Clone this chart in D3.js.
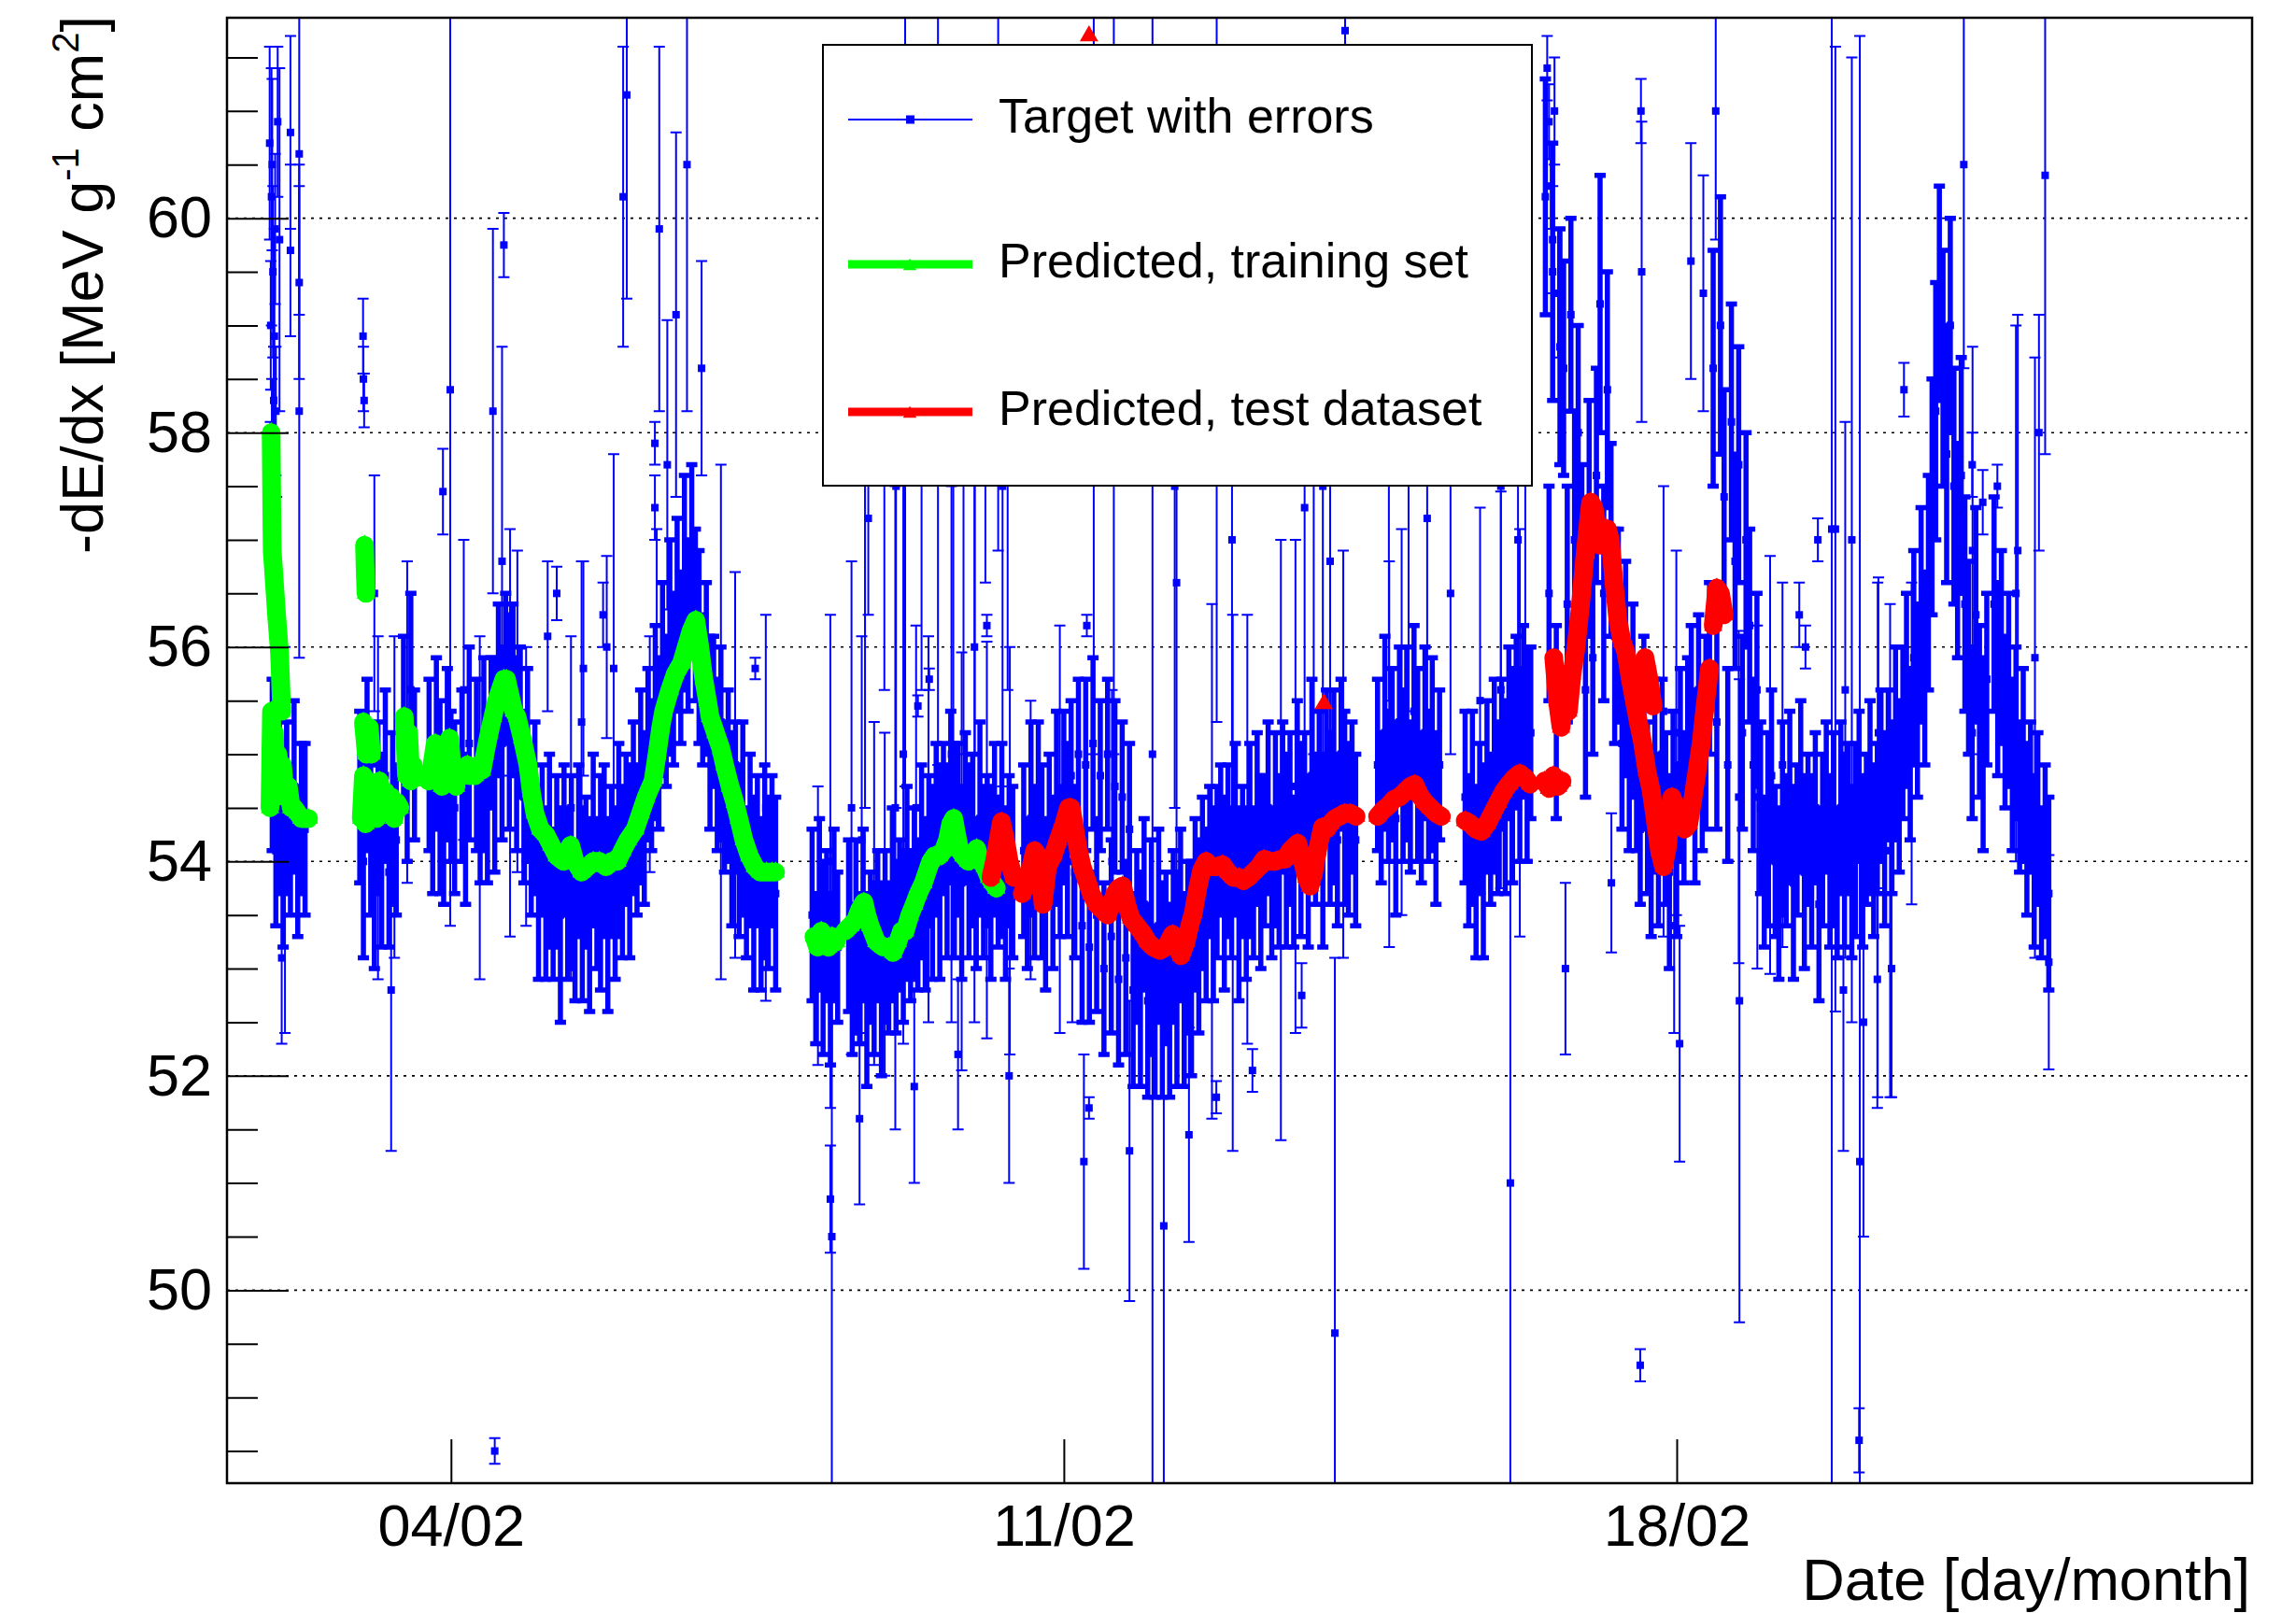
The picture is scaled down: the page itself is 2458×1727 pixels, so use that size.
<!DOCTYPE html>
<html>
<head>
<meta charset="utf-8">
<script src="https://cdn.jsdelivr.net/npm/d3@7"></script>
<style>
  html, body { margin: 0; padding: 0; background: #fff; }
  text { font-family: "Liberation Sans", Arial, Helvetica, sans-serif; fill: #000; }
</style>
</head>
<body>
<svg id="chart"></svg>
<script>
//************************************ Data ************************************//
// all times are hours counted from 01/02 00:00 UTC
var t0 = Date.UTC(2018, 1, 1);
var hourToDate = function(h) { return new Date(t0 + h * 3600e3); };

var xTickHours = [72, 240, 408];                 // 04/02, 11/02, 18/02
var yTickValues = [50, 52, 54, 56, 58, 60];
var yMinorValues = [48.5, 49, 49.5, 50.5, 51, 51.5, 52.5, 53, 53.5, 54.5, 55, 55.5,
                    56.5, 57, 57.5, 58.5, 59, 59.5, 60.5, 61, 61.5];
var legendLabels = ['Target with errors', 'Predicted, training set', 'Predicted, test dataset'];

// target: continuous runs of hourly values, first hour of each run
var targetStart = [23, 47, 59, 66, 75, 79, 171, 181, 229, 326, 350, 372, 495];
var targetValues = [
  [54.9, 54.1, 54.6, 53.9, 54.5, 54.2, 54.7, 54.0, 54.4, 54.3],
  [54.6, 54.0, 54.9, 54.2, 53.8, 54.5, 54.1, 54.8, 53.9, 54.4, 54.2],
  [55.3, 54.7, 55.6, 54.9],
  [54.9, 54.4, 55.1, 54.6, 54.3, 55.0, 54.7, 54.5],
  [54.8, 54.3, 55.1],
  [54.9, 54.5, 55.0, 54.6, 55.2, 54.9, 55.6, 55.1, 55.8, 55.3,
   55.6, 55.0, 55.3, 54.6, 54.9, 54.2, 54.5, 53.8, 54.2, 53.7,
   54.1, 53.6, 54.0, 53.5, 54.2, 53.7, 53.9, 53.4, 54.1, 53.6,
   53.9, 53.5, 54.2, 53.7, 53.8, 54.1, 53.5, 54.0, 53.7, 54.2,
   53.9, 54.3, 54.0, 54.5, 54.2, 54.7, 54.4, 55.0, 54.8, 55.3,
   55.1, 55.7, 55.4, 56.0, 55.7, 56.3, 55.9, 56.6, 56.2, 56.8,
   56.3, 56.0, 55.6, 55.8, 55.2, 55.4, 54.9, 55.1, 54.6, 54.8,
   54.3, 54.6, 54.1, 54.4, 53.8, 54.2, 53.7, 54.1, 53.6, 54.0,
   53.8, 54.1, 53.7],
  [53.5, 53.0, 53.6, 53.1, 53.4, 52.9, 53.5, 53.2],
  [53.4, 52.9, 53.3, 53.0, 53.5, 52.8, 53.2, 53.0, 53.4, 52.9,
   53.3, 53.1, 53.6, 53.2, 53.5, 53.3, 53.8, 53.4, 53.7, 53.5,
   54.0, 53.6, 54.1, 53.8, 54.3, 53.9, 54.4, 54.0, 54.6, 54.1,
   54.3, 53.8, 54.5, 54.0, 54.2, 53.7, 54.4, 53.9, 54.1, 53.8,
   54.3, 53.9, 54.2, 53.7, 54.1, 53.9],
  [54.1, 53.7, 54.4, 53.9, 54.6, 54.0, 53.6, 54.3, 53.8, 54.5,
   54.0, 54.6, 54.2, 54.8, 53.9, 55.0, 53.4, 54.9, 53.2, 55.1,
   53.5, 54.8, 53.0, 55.0, 53.3, 54.7, 52.9, 54.6, 53.1, 54.3,
   52.8, 53.3, 52.9, 53.6, 52.7, 53.2, 52.6, 53.4, 52.8, 53.1,
   52.7, 53.3, 52.9, 53.5, 52.8, 53.2, 53.0, 53.6, 53.3, 53.8,
   53.5, 54.0, 53.6, 53.9, 54.2, 53.7, 54.1, 53.8, 54.3, 53.6,
   54.0, 53.7, 54.2, 53.8, 54.4, 53.9, 54.1, 54.5, 53.8, 54.3,
   54.0, 54.6, 54.1, 54.4, 53.9, 54.7, 54.2, 54.5, 54.0, 54.8,
   54.3, 54.6, 54.1, 54.9, 54.4, 54.7, 54.2, 55.0, 54.5, 54.3,
   54.6, 54.2],
  [54.9, 54.5, 55.2, 54.7, 55.0, 54.4, 55.3, 54.8, 55.1, 54.6,
   55.4, 54.9, 54.5, 55.2, 54.7, 55.0, 54.4, 54.9],
  [54.6, 54.1, 54.5, 53.9, 54.4, 54.0, 54.7, 54.3, 54.8, 54.5,
   55.0, 54.6, 55.2, 54.8, 55.3, 54.9, 55.4, 55.0, 55.2],
  [60.2, 56.5, 59.5, 55.3, 58.8, 58.6, 56.4, 59.1, 57.0, 58.0,
   56.8, 55.6, 57.2, 55.9, 57.6, 59.2, 56.5, 58.4, 57.0, 56.1,
   56.2, 55.1, 55.8, 54.9, 55.5,
   54.9, 54.3, 55.2, 54.5, 54.0, 54.8, 54.2, 55.0, 54.4, 53.9, 54.7, 54.1, 54.9, 54.5, 55.1,
   55.4, 54.7, 55.6, 54.9, 55.2, 55.8,
   58.6, 55.3, 59.0, 57.4, 54.9, 58.1, 56.8, 57.7, 55.2, 57.0, 56.2, 54.9, 55.6,
   54.5, 53.9, 54.3, 54.8, 54.0, 53.7, 54.4, 54.1, 54.6, 53.8,
   54.2, 54.7, 53.9, 54.3, 54.0, 54.5, 53.6, 54.2, 54.6, 54.0,
   54.3, 53.8, 54.5, 54.1, 54.4, 53.9, 54.2, 54.7, 54.0, 54.3,
   54.6, 54.1, 54.4, 54.8, 54.3, 54.9, 54.5, 55.1, 54.7,
   55.2, 55.6, 55.0, 55.9, 55.5, 56.3, 55.8,
   56.6, 57.4, 58.2, 59.3, 58.6, 57.8, 59.0, 57.5, 56.9, 57.6, 56.4,
   55.9, 55.2, 56.3, 55.4, 55.0, 55.7],
  [56.4, 55.7, 56.0, 55.3, 55.6, 54.9, 55.2, 54.6, 54.9, 54.3,
   54.6, 54.0, 54.4, 53.8, 54.1, 53.7]
];
var targetErrors = [
  [0.8, 0.7, 0.9, 0.7, 0.8, 0.7, 0.8, 0.7, 0.7, 0.8],
  [0.8, 0.9, 0.8, 0.7, 0.8, 0.8, 0.9, 0.8, 0.7, 0.8, 0.7],
  [0.8, 0.7, 0.9, 0.7],
  [0.8, 0.7, 0.8, 0.9, 0.7, 0.8, 0.7, 0.8],
  [0.8, 0.7, 0.9],
  [0.8, 0.7, 0.9, 0.8, 0.7, 1.0, 0.8, 0.9, 0.7, 1.0,
   0.8, 0.9, 0.7, 0.8, 0.9, 0.7, 0.8, 0.9, 0.7, 0.8,
   0.9, 0.7, 0.8, 1.0, 0.7, 0.8, 0.9, 0.7, 0.8, 0.9,
   0.7, 0.9, 0.8, 0.7, 1.0, 0.8, 0.9, 0.7, 0.8, 0.9,
   0.8, 0.7, 0.9, 0.8, 0.7, 0.9, 0.8, 0.8, 0.7, 0.9,
   0.8, 0.9, 0.7, 1.0, 0.8, 0.9, 0.8, 1.0, 0.8, 0.9,
   0.8, 0.9, 0.7, 0.8, 0.9, 0.7, 0.8, 0.9, 0.7, 0.8,
   0.9, 0.7, 0.8, 0.9, 0.7, 0.8, 0.9, 0.7, 0.8, 0.9,
   0.8, 0.7, 0.9],
  [0.8, 0.7, 0.8, 0.9, 0.7, 0.8, 0.8, 0.7],
  [0.8, 0.7, 0.9, 0.7, 0.8, 0.9, 0.7, 0.8, 0.7, 0.9,
   0.8, 0.7, 0.9, 0.8, 0.7, 0.8, 0.9, 0.7, 0.8, 0.7,
   0.9, 0.8, 0.7, 0.9, 0.8, 1.0, 0.7, 0.9, 0.8, 1.0,
   0.8, 0.9, 0.7, 0.9, 0.8, 0.7, 0.9, 0.8, 0.7, 0.9,
   0.8, 0.7, 0.9, 0.8, 0.7, 0.8],
  [0.8, 0.7, 0.9, 0.8, 0.7, 0.9, 0.8, 0.7, 0.8, 0.9,
   0.7, 0.8, 0.9, 0.7, 0.8, 0.7, 0.9, 0.8, 0.7, 0.8,
   0.9, 0.7, 0.8, 0.7, 0.9, 0.8, 0.8, 0.7, 0.9, 0.8,
   0.9, 0.8, 1.0, 0.8, 0.9, 1.0, 0.8, 0.9, 1.0, 0.8,
   0.9, 0.8, 1.0, 0.8, 0.9, 0.8, 1.0, 0.8, 0.9, 0.8,
   0.8, 0.7, 0.9, 0.8, 0.7, 0.9, 0.8, 0.7, 0.8, 0.9,
   0.7, 0.8, 0.9, 0.7, 0.8, 0.9, 0.7, 0.8, 0.7, 0.9,
   0.8, 0.7, 0.9, 0.8, 0.7, 0.8, 0.9, 0.7, 0.8, 0.9,
   0.7, 0.8, 0.9, 0.7, 0.8, 0.9, 0.8, 0.7, 0.9, 0.8,
   0.7, 0.8],
  [0.8, 0.7, 0.9, 0.7, 0.8, 0.9, 0.7, 0.8, 0.9, 0.7,
   0.8, 0.9, 0.7, 0.8, 0.7, 0.9, 0.8, 0.7],
  [0.8, 0.7, 0.9, 0.8, 0.7, 0.9, 0.8, 0.7, 0.9, 0.8,
   0.7, 0.9, 0.8, 1.0, 0.8, 0.9, 0.8, 1.0, 0.8],
  [1.1, 1.0, 1.2, 0.9, 1.1, 1.0, 1.1, 0.9, 1.2, 1.0,
   0.9, 1.0, 1.1, 0.9, 1.0, 1.2, 1.0, 1.1, 0.9, 1.0,
   0.9, 0.8, 1.0, 0.8, 0.9,
   0.8, 0.7, 0.9, 0.8, 0.7, 0.9, 0.8, 0.7, 0.8, 0.9, 0.7, 0.8, 0.9, 0.7, 0.8,
   0.8, 0.9, 0.7, 0.8, 0.9, 0.8,
   1.1, 1.0, 1.2, 1.0, 0.9, 1.1, 1.0, 1.1, 0.9, 1.0, 0.9, 0.8, 0.9,
   0.8, 0.7, 0.9, 0.8, 0.7, 0.8, 0.9, 0.7, 0.8, 0.9,
   0.7, 0.8, 0.9, 0.7, 0.8, 0.7, 0.9, 0.8, 0.7, 0.8,
   0.9, 0.7, 0.8, 0.9, 0.7, 0.8, 0.9, 0.7, 0.8, 0.7,
   0.9, 0.8, 0.7, 0.8, 0.9, 0.7, 0.8, 0.9, 0.8,
   0.8, 0.9, 0.8, 1.0, 0.9, 1.0, 0.9,
   1.0, 1.1, 1.2, 1.0, 1.1, 1.2, 1.0, 1.1, 1.0, 1.1, 1.0,
   0.9, 0.8, 1.0, 0.8, 0.9, 0.8],
  [1.0, 0.9, 0.9, 0.8, 0.9, 0.8, 0.8, 0.7, 0.9, 0.8,
   0.7, 0.8, 0.8, 0.7, 0.8, 0.9]
];

// isolated target points and spikes: [hour, value, error]
var targetOutliers = [
  [22.3, 60.7, 0.9], [22.5, 57.6, 0.5], [22.6, 59.0, 0.6], [22.8, 60.2, 1.2], [22.9, 57.9, 0.6],
  [23.0, 60.5, 0.8], [23.2, 59.5, 0.8], [23.4, 58.3, 0.5], [23.5, 57.3, 0.5], [23.6, 58.9, 1.0],
  [23.8, 59.9, 0.7], [24.0, 58.2, 0.6], [24.2, 56.8, 0.6], [24.5, 60.9, 0.7], [25.0, 59.8, 1.6],
  [25.6, 53.1, 0.8], [26.5, 54.2, 1.8], [28.0, 60.8, 0.9], [28.0, 59.7, 0.8], [30.4, 60.6, 1.5],
  [30.4, 59.4, 0.9], [30.4, 58.2, 2.3],
  [47.9, 58.9, 0.35], [48.0, 58.5, 0.3], [48.2, 58.3, 0.25], [51.0, 56.5, 1.1], [52.0, 54.5, 1.6],
  [55.6, 52.8, 1.5], [56.5, 54.6, 1.5], [60.0, 55.3, 1.5],
  [69.8, 57.45, 0.4], [71.8, 58.4, 5.0], [75.5, 55.6, 1.4], [79.9, 54.5, 1.6], [83.5, 58.2, 1.7],
  [84.0, 48.5, 0.12], [86.0, 56.8, 2.0], [86.5, 59.75, 0.3], [88.2, 55.2, 1.9], [90.2, 55.4, 1.5],
  [92.6, 54.7, 1.3], [98.5, 56.1, 0.7], [101.0, 56.5, 0.25], [104.9, 54.5, 1.6], [107.8, 55.3, 1.5],
  [108.3, 55.8, 1.0], [113.7, 56.3, 0.3], [114.7, 56.0, 0.85], [116.6, 55.8, 2.0], [119.2, 60.2, 1.4],
  [120.2, 61.15, 1.9], [126.5, 55.0, 1.1], [127.9, 57.9, 0.2], [127.9, 57.3, 0.3], [128.4, 55.7, 1.4],
  [129.1, 59.9, 1.7], [131.3, 57.7, 1.35], [133.7, 59.1, 1.7], [136.7, 60.5, 2.3], [140.7, 58.6, 1.0],
  [146.0, 55.3, 2.4], [149.9, 54.9, 1.8], [155.4, 55.8, 0.1], [158.3, 54.5, 1.8],
  [172.6, 53.4, 1.3], [176.0, 54.0, 2.3], [176.0, 50.85, 0.5], [176.4, 50.5, 2.4], [181.8, 54.5, 2.3],
  [184.0, 51.6, 0.8], [184.6, 54.2, 1.9], [185.5, 58.0, 3.5], [186.4, 57.2, 0.9], [188.0, 53.7, 1.6],
  [190.8, 58.6, 3.0], [190.9, 53.6, 1.6], [193.8, 54.5, 3.0], [194.0, 57.5, 3.0], [196.0, 55.0, 2.7],
  [196.5, 58.5, 3.8], [199.0, 51.9, 0.9], [199.5, 54.5, 1.7], [200.0, 55.45, 0.1], [201.0, 57.8, 2.2],
  [202.9, 54.3, 1.8], [203.1, 55.7, 0.1], [205.5, 58.4, 3.5], [209.2, 55.0, 2.5], [209.7, 57.8, 3.0],
  [211.0, 52.2, 0.7], [212.0, 54.0, 1.95], [212.5, 58.0, 3.0], [215.5, 56.0, 3.5], [215.6, 58.2, 3.2],
  [218.5, 58.8, 2.2], [218.9, 56.2, 0.1], [218.9, 54.2, 1.85], [222.0, 59.4, 2.5], [223.2, 57.5, 2.8],
  [224.6, 57.6, 2.0], [225.0, 52.0, 1.0], [225.2, 54.1, 1.9],
  [230.9, 54.2, 1.3], [238.9, 54.3, 1.9], [242.3, 54.0, 1.5], [245.5, 51.2, 1.0], [246.3, 56.2, 0.1],
  [246.9, 51.7, 0.1], [248.2, 59.5, 4.5], [253.2, 54.0, 1.6], [253.7, 60.0, 5.0], [258.0, 51.3, 1.4],
  [264.3, 55.0, 7.0], [267.4, 50.6, 3.0], [270.4, 57.5, 3.0], [270.9, 56.6, 3.0], [274.3, 51.45, 1.0],
  [280.6, 54.0, 2.4], [281.8, 51.8, 0.15], [281.9, 58.8, 3.5], [286.1, 57.0, 2.5], [286.3, 53.8, 2.5],
  [290.3, 54.3, 2.0], [291.7, 52.05, 0.2], [299.5, 54.2, 2.8], [303.5, 54.7, 2.3], [305.2, 52.75, 0.3],
  [306.0, 57.3, 2.8], [308.5, 58.0, 3.0], [311.0, 57.5, 2.6], [313.0, 56.8, 2.4], [314.3, 49.6, 3.5],
  [316.6, 55.0, 1.9], [317.1, 61.75, 0.15],
  [329.1, 58.5, 3.0], [329.2, 55.0, 1.8], [332.6, 55.3, 1.8], [334.5, 58.0, 2.6], [339.6, 57.2, 2.0],
  [346.0, 56.5, 1.5], [354.1, 55.5, 1.8], [359.8, 57.5, 2.5], [359.8, 55.6, 1.85], [362.4, 51.0, 3.6],
  [364.5, 57.0, 2.2], [365.0, 55.2, 1.9], [366.5, 58.5, 3.0],
  [372.5, 61.4, 0.3], [373.0, 60.9, 0.35], [373.5, 60.3, 0.4], [374.0, 59.8, 0.5], [374.5, 61.0, 0.5],
  [375.5, 59.3, 0.6], [377.5, 53.0, 0.8], [390.1, 53.8, 0.65], [398.0, 49.3, 0.15], [398.2, 61.0, 0.3],
  [398.4, 59.5, 1.4], [404.4, 55.4, 2.1], [407.3, 53.4, 1.0], [407.9, 55.2, 1.7], [408.8, 52.3, 1.1],
  [411.9, 59.6, 1.1], [415.3, 59.3, 1.1], [418.7, 61.0, 1.2], [425.0, 54.6, 1.55], [425.2, 52.7, 3.0],
  [430.1, 54.6, 1.6], [433.6, 54.9, 1.95], [437.0, 54.9, 1.7], [441.6, 56.3, 0.3], [443.3, 56.0, 0.2],
  [446.7, 57.0, 0.2], [450.5, 57.1, 9.0], [451.5, 57.1, 4.5], [453.7, 52.8, 1.5], [454.2, 55.6, 2.5],
  [456.0, 57.0, 4.5], [458.0, 48.6, 0.3], [458.2, 51.2, 10.5], [459.2, 52.5, 2.0], [463.0, 52.9, 1.2],
  [463.1, 54.2, 2.4], [463.3, 55.2, 1.45], [466.5, 54.1, 2.3], [466.9, 53.0, 1.2], [470.3, 58.4, 0.25],
  [472.4, 55.1, 1.5], [486.7, 60.5, 1.9], [489.0, 57.7, 0.3], [489.1, 56.9, 1.9], [491.9, 57.35, 0.3],
  [495.9, 57.5, 0.2], [501.0, 56.5, 2.5], [501.5, 56.9, 2.2], [506.2, 55.9, 2.8], [507.3, 58.0, 1.1],
  [509.0, 60.4, 2.6], [510.0, 53.06, 1.0]
];

// network output on the training set: [hour, value], one array per stretch
var trainSegments = [
  [[22.7, 58.0], [22.8, 57.6], [22.9, 57.2], [23.0, 56.9], [24.2, 56.3], [25.0, 55.95], [25.6, 55.4]],
  [[22.4, 54.5], [22.8, 55.4], [23.2, 54.6], [23.6, 55.2], [24.0, 54.6], [24.6, 55.0], [25.2, 54.7],
   [25.8, 54.9], [26.6, 54.6], [27.4, 54.7], [28.2, 54.5], [29.0, 54.5], [30.0, 54.45], [31.0, 54.4],
   [32.0, 54.4], [33.0, 54.4]],
  [[48.3, 56.95], [48.5, 56.7], [48.7, 56.5]],
  [[48.0, 55.3], [48.8, 55.0], [49.6, 55.25], [50.2, 55.0]],
  [[47.4, 54.4], [48.0, 54.8], [48.6, 54.35], [49.2, 54.75], [50.0, 54.4], [50.8, 54.7], [51.6, 54.4],
   [52.4, 54.75], [53.2, 54.5], [54.0, 54.65], [54.8, 54.45], [55.6, 54.6], [56.4, 54.4], [57.2, 54.55],
   [58.0, 54.5]],
  [[59.2, 55.35], [59.8, 54.8], [60.4, 55.2], [61.0, 54.75], [61.6, 54.9]],
  [[65.8, 54.75], [66.8, 54.9], [67.7, 55.1], [68.6, 54.8], [69.5, 54.7], [70.5, 54.85], [71.6, 55.15],
   [72.5, 54.8], [73.4, 54.7]],
  [[74.6, 54.85], [75.6, 54.8], [76.5, 54.9], [77.3, 54.8]],
  [[78.6, 54.8], [79.6, 54.9], [80.5, 54.85], [81.3, 55.0], [82.5, 55.2], [83.5, 55.35], [84.5, 55.5],
   [85.5, 55.6], [86.5, 55.7], [87.2, 55.7], [88.2, 55.55], [89.2, 55.4], [90.1, 55.35], [91.5, 55.15],
   [93.1, 54.9], [94.0, 54.65], [95.0, 54.45], [96.5, 54.3], [98.0, 54.25], [99.5, 54.15], [101.0, 54.05],
   [102.9, 54.0], [104.0, 54.1], [104.8, 54.15], [106.0, 54.0], [107.8, 53.9], [109.5, 53.95], [111.0, 54.0],
   [112.7, 54.0], [114.5, 53.95], [116.0, 54.0], [117.6, 54.0], [119.0, 54.1], [120.5, 54.2], [122.5, 54.3],
   [124.0, 54.45], [125.5, 54.6], [127.4, 54.75], [128.5, 55.0], [129.5, 55.25], [130.3, 55.4], [132.0, 55.6],
   [133.5, 55.75], [135.2, 55.85], [136.5, 56.0], [137.8, 56.15], [139.1, 56.25], [140.2, 56.0], [141.3, 55.7],
   [142.3, 55.5], [143.0, 55.35], [144.5, 55.2], [146.0, 55.05], [147.0, 54.9], [148.5, 54.7], [149.8, 54.55],
   [150.9, 54.4], [152.3, 54.2], [153.8, 54.05], [155.3, 53.95], [156.8, 53.9], [158.5, 53.9], [160.0, 53.9],
   [161.0, 53.9]],
  [[171.5, 53.3], [172.5, 53.2], [173.5, 53.35], [174.5, 53.25], [175.5, 53.2], [176.5, 53.3], [177.6, 53.25]],
  [[180.0, 53.35], [181.5, 53.4], [182.9, 53.45], [184.0, 53.55], [185.2, 53.62], [186.0, 53.5], [186.9, 53.4],
   [188.6, 53.25], [190.5, 53.2], [192.0, 53.2], [193.2, 53.15], [194.5, 53.25], [195.5, 53.35], [196.5, 53.35],
   [197.8, 53.5], [199.0, 53.6], [200.1, 53.7], [201.5, 53.8], [203.5, 54.0], [204.5, 54.05], [205.8, 54.05],
   [207.0, 54.1], [208.1, 54.2], [209.0, 54.35], [209.8, 54.4], [210.6, 54.25], [211.5, 54.1], [212.5, 54.05],
   [213.8, 54.0], [215.0, 54.05], [216.1, 54.12], [217.2, 54.0], [218.3, 53.95], [219.5, 53.85], [220.5, 53.8],
   [221.5, 53.75]]
];

// network output on the test set: [hour, value], one array per stretch
var testSegments = [
  [[220.0, 53.85], [221.0, 54.0], [222.0, 54.2], [222.9, 54.37], [224.0, 54.2], [225.0, 54.0], [226.3, 53.85]],
  [[228.6, 53.7], [229.8, 53.8], [231.0, 53.95], [232.0, 54.1], [233.0, 54.05], [234.3, 53.6], [235.5, 53.95],
   [237.0, 54.05], [238.5, 54.2], [240.0, 54.35], [241.3, 54.5], [242.0, 54.5], [243.0, 54.3], [244.0, 54.1],
   [245.0, 53.95], [246.0, 53.85], [247.5, 53.7], [249.0, 53.6], [250.5, 53.55], [252.0, 53.5], [253.0, 53.6],
   [254.0, 53.7], [255.0, 53.75], [256.1, 53.77], [257.2, 53.6], [258.4, 53.47], [260.0, 53.4], [261.8, 53.32],
   [263.0, 53.25], [264.5, 53.2], [266.4, 53.17], [268.0, 53.2], [269.8, 53.32], [271.0, 53.2], [272.1, 53.12],
   [273.5, 53.25], [274.5, 53.4], [275.5, 53.52], [276.7, 53.75], [277.8, 53.92], [279.0, 54.0], [280.5, 53.95],
   [282.0, 53.95], [283.5, 53.97], [285.0, 53.9], [286.5, 53.85], [288.0, 53.85], [289.2, 53.82], [290.5, 53.85],
   [292.0, 53.9], [293.5, 53.95], [294.9, 54.02], [296.5, 54.0], [298.0, 54.0], [299.5, 54.02], [300.6, 54.02],
   [302.0, 54.1], [304.1, 54.17], [305.5, 54.0], [306.5, 53.85], [307.5, 53.77], [308.5, 53.9], [309.5, 54.1],
   [310.9, 54.32], [312.0, 54.3], [313.0, 54.35], [314.3, 54.4], [315.5, 54.42], [317.0, 54.45], [318.5, 54.45],
   [320.1, 54.42]],
  [[326.0, 54.42], [327.5, 54.48], [329.0, 54.52], [330.5, 54.58], [332.0, 54.6], [333.5, 54.65], [335.0, 54.7],
   [336.2, 54.72], [337.5, 54.62], [339.0, 54.55], [340.5, 54.5], [342.0, 54.45], [343.5, 54.42]],
  [[350.0, 54.38], [351.5, 54.35], [353.0, 54.3], [354.5, 54.28], [356.0, 54.35], [357.5, 54.45], [359.0, 54.55],
   [360.5, 54.65], [362.0, 54.72], [363.5, 54.78], [365.0, 54.82], [366.5, 54.78], [367.8, 54.72]],
  [[371.8, 54.75], [373.0, 54.68], [374.2, 54.8], [375.5, 54.7], [376.6, 54.75]],
  [[374.3, 55.9], [375.3, 55.5], [376.3, 55.25], [377.3, 55.6], [378.3, 55.4], [379.3, 55.75], [380.4, 56.0],
   [381.5, 56.35], [382.7, 56.8], [383.6, 57.1], [384.4, 57.35], [385.3, 57.3], [386.1, 57.15]],
  [[387.0, 56.95], [388.0, 57.0], [389.0, 57.1], [389.8, 57.0], [390.8, 56.6], [391.9, 56.25], [393.0, 56.05],
   [394.1, 55.95], [395.3, 55.7], [396.4, 55.5], [397.5, 55.3], [398.7, 55.1], [399.8, 54.85], [401.0, 54.66],
   [402.1, 54.4], [403.3, 54.1], [404.4, 53.95], [405.5, 54.15], [406.7, 54.6], [407.8, 54.5], [409.0, 54.35],
   [410.1, 54.3], [411.3, 54.35], [412.5, 54.6], [413.6, 54.85], [414.7, 55.1], [415.8, 55.45], [417.0, 55.8]],
  [[418.0, 56.2], [419.0, 56.55], [420.0, 56.5], [421.0, 56.3]],
  [[397.0, 55.45], [398.2, 55.8], [399.3, 55.9], [400.4, 55.7], [401.5, 55.45]],
  [[246.9, 61.7]],
  [[311.3, 55.47]]
];

//************************************ Layout ************************************//
var width = 2458, height = 1727;
var frame = {left: 243, right: 2411, top: 19, bottom: 1588};
var blue = '#0000ff', green = '#00ff00', red = '#ff0000';

var x = d3.scaleUtc()
    .domain([hourToDate(10.6), hourToDate(565.73)])
    .range([frame.left, frame.right]);
var y = d3.scaleLinear()
    .domain([48.2, 61.87])
    .range([frame.bottom, frame.top]);
var px = function(h) { return x(hourToDate(h)); };

var svg = d3.select('#chart').attr('width', width).attr('height', height);
svg.append('rect').attr('width', width).attr('height', height).attr('fill', '#fff');

svg.append('clipPath').attr('id', 'plot-clip')
  .append('rect')
    .attr('x', frame.left).attr('y', frame.top)
    .attr('width', frame.right - frame.left).attr('height', frame.bottom - frame.top);

// horizontal dotted grid at the labelled values
svg.append('g').selectAll('line').data(yTickValues).join('line')
    .attr('x1', frame.left).attr('x2', frame.right)
    .attr('y1', function(d) { return y(d); }).attr('y2', function(d) { return y(d); })
    .attr('stroke', '#000').attr('stroke-width', 1.6).attr('stroke-dasharray', '3 6');

var plot = svg.append('g').attr('clip-path', 'url(#plot-clip)');

//************************************ Target with errors ************************************//
// hourly points stand for many overlapping measurements, so their bars are drawn
// as wide as the spacing between them; isolated points keep a thin bar
var targetPoints = [];
targetStart.forEach(function(h0, r) {
  targetValues[r].forEach(function(v, i) {
    targetPoints.push({h: h0 + i, v: v, e: targetErrors[r][i], dense: true});
  });
});
targetOutliers.forEach(function(d) { targetPoints.push({h: d[0], v: d[1], e: d[2], dense: false}); });

var cap = 6;
plot.append('g').selectAll('path').data(targetPoints).join('path')
    .attr('d', function(d) {
      var cx = px(d.h), y1 = y(d.v + d.e), y2 = y(d.v - d.e);
      return 'M' + (cx - cap) + ',' + y1 + 'H' + (cx + cap) +
             'M' + cx + ',' + y1 + 'V' + y2 +
             'M' + (cx - cap) + ',' + y2 + 'H' + (cx + cap);
    })
    .attr('fill', 'none').attr('stroke', blue)
    .attr('stroke-width', function(d) { return d.dense ? 5.5 : 2; });

plot.append('g').selectAll('rect').data(targetPoints).join('rect')
    .attr('x', function(d) { return px(d.h) - 4; })
    .attr('y', function(d) { return y(d.v) - 4; })
    .attr('width', 8).attr('height', 8)
    .attr('fill', blue);

//************************************ Predictions ************************************//
var line = d3.line()
    .x(function(d) { return px(d[0]); })
    .y(function(d) { return y(d[1]); });
var triangle = d3.symbol(d3.symbolTriangle, 170);

var drawPrediction = function(segments, color) {
  var g = plot.append('g');
  g.selectAll('path.band').data(segments.filter(function(s) { return s.length > 1; })).join('path')
      .attr('class', 'band')
      .attr('d', line)
      .attr('fill', 'none').attr('stroke', color).attr('stroke-width', 20)
      .attr('stroke-linejoin', 'round').attr('stroke-linecap', 'round');
  g.selectAll('path.mk').data(segments.flat()).join('path')
      .attr('class', 'mk')
      .attr('transform', function(d) { return 'translate(' + px(d[0]) + ',' + y(d[1]) + ')'; })
      .attr('d', triangle)
      .attr('fill', color);
};
drawPrediction(trainSegments, green);
drawPrediction(testSegments, red);

//************************************ Axes ************************************//
var xAxis = d3.axisBottom(x)
    .tickValues(xTickHours.map(hourToDate))
    .tickFormat(d3.utcFormat('%d/%m'))
    .tickSizeInner(-47).tickSizeOuter(0).tickPadding(22);
var gx = svg.append('g').attr('transform', 'translate(0,' + frame.bottom + ')').call(xAxis);

var yAxis = d3.axisLeft(y)
    .tickValues(yTickValues)
    .tickFormat(d3.format('d'))
    .tickSizeInner(-66).tickSizeOuter(0).tickPadding(16);
var gy = svg.append('g').attr('transform', 'translate(' + frame.left + ',0)').call(yAxis);

var gyMinor = svg.append('g').attr('transform', 'translate(' + frame.left + ',0)')
    .call(d3.axisLeft(y).tickValues(yMinorValues).tickFormat('').tickSizeInner(-33).tickSizeOuter(0));

[gx, gy, gyMinor].forEach(function(g) {
  g.select('.domain').remove();
  g.selectAll('.tick line').attr('stroke', '#000').attr('stroke-width', 2);
  g.selectAll('.tick text')
    .style('font-family', '"Liberation Sans", Arial, sans-serif')
    .style('font-size', '63px').attr('fill', '#000');
});

// frame
svg.append('rect')
    .attr('x', frame.left).attr('y', frame.top)
    .attr('width', frame.right - frame.left).attr('height', frame.bottom - frame.top)
    .attr('fill', 'none').attr('stroke', '#000').attr('stroke-width', 2.5);

// axis titles
var ytitle = svg.append('text')
    .attr('transform', 'translate(110,17) rotate(-90)')
    .attr('text-anchor', 'end')
    .style('font-size', '63px');
ytitle.append('tspan').text('-dE/dx [MeV g');
ytitle.append('tspan').attr('dy', -26).style('font-size', '40px').text('-1');
ytitle.append('tspan').attr('dy', 26).text(' cm');
ytitle.append('tspan').attr('dy', -26).style('font-size', '40px').text('2');
ytitle.append('tspan').attr('dy', 26).text(']');

svg.append('text')
    .attr('x', 2409).attr('y', 1713)
    .attr('text-anchor', 'end')
    .style('font-size', '63px')
    .text('Date [day/month]');

//************************************ Legend ************************************//
var legend = svg.append('g');
legend.append('rect')
    .attr('x', 881).attr('y', 48).attr('width', 759).attr('height', 472)
    .attr('fill', '#fff').attr('stroke', '#000').attr('stroke-width', 2);

var rowsY = [128, 283, 441];
var rowColor = [blue, green, red];
legendLabels.forEach(function(label, i) {
  var ly = rowsY[i];
  legend.append('line')
      .attr('x1', 908).attr('x2', 1041).attr('y1', ly).attr('y2', ly)
      .attr('stroke', rowColor[i]).attr('stroke-width', i === 0 ? 2 : 9);
  if (i === 0) {
    legend.append('rect').attr('x', 970).attr('y', ly - 4.5).attr('width', 9).attr('height', 9)
        .attr('fill', blue);
  } else {
    legend.append('path').attr('transform', 'translate(974,' + (ly + 2) + ')')
        .attr('d', d3.symbol(d3.symbolTriangle, 90)).attr('fill', rowColor[i]);
  }
  legend.append('text')
      .attr('x', 1069).attr('y', ly + 14)
      .style('font-size', '52px')
      .text(label);
});
</script>
</body>
</html>
